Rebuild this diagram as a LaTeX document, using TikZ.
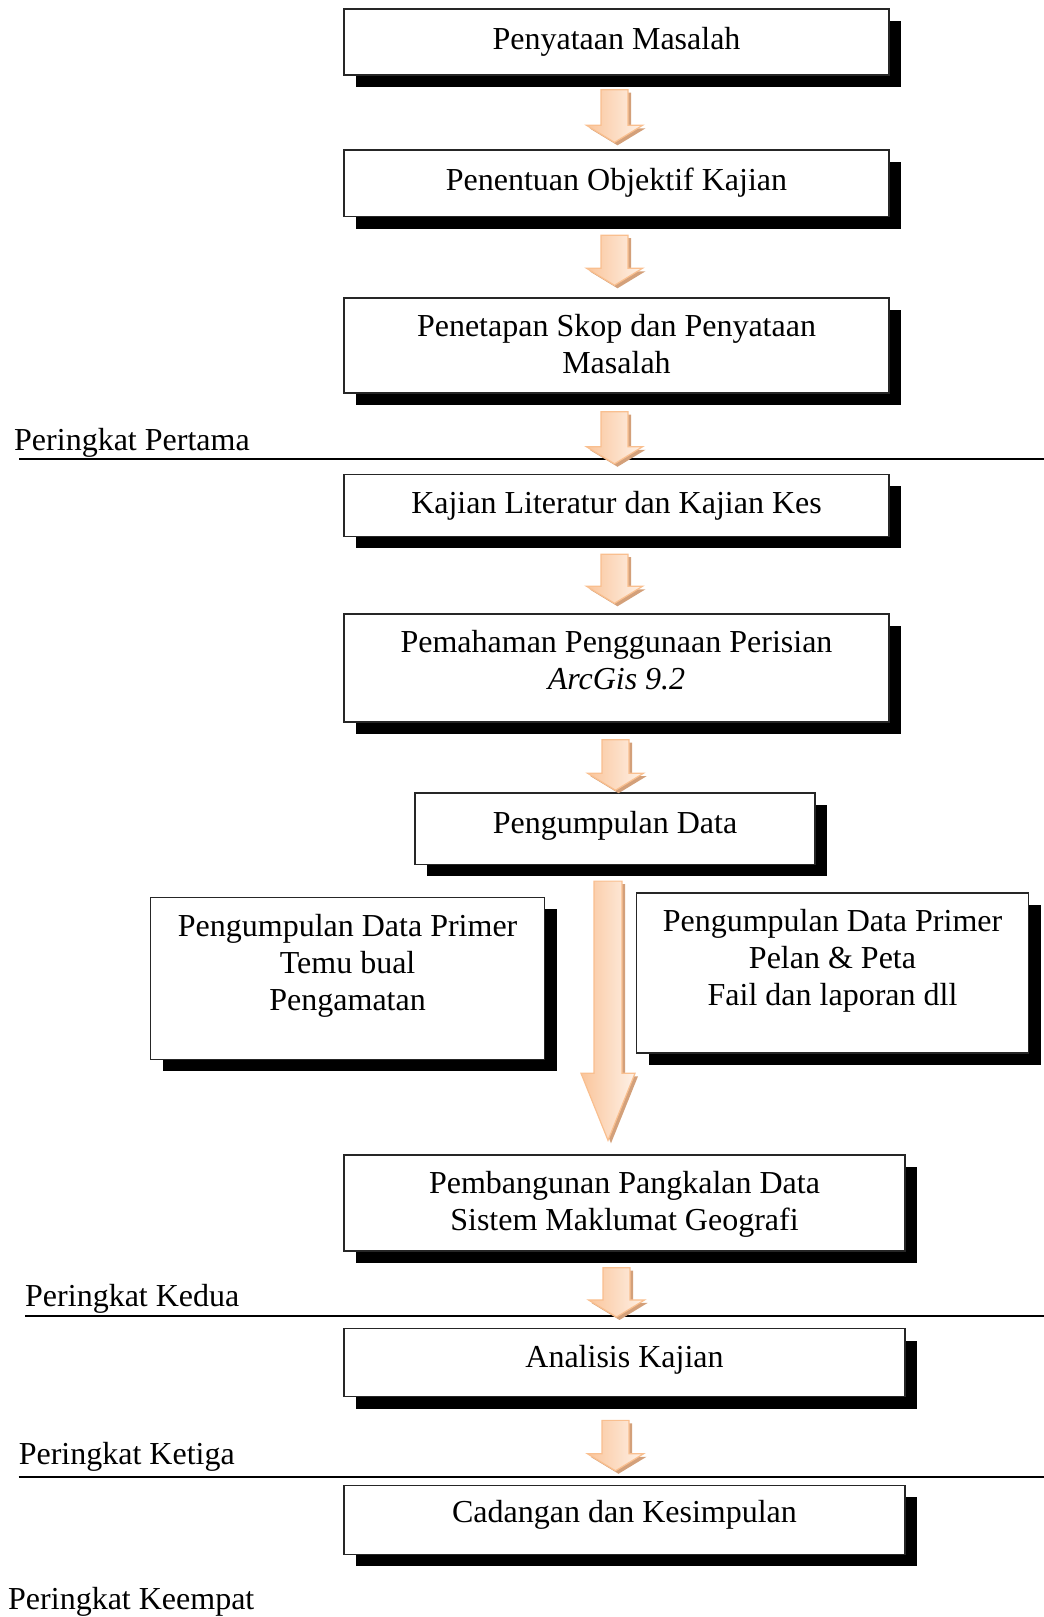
\documentclass[tikz,border=0pt]{standalone}
\usepackage{fontspec}
\setmainfont{Liberation Serif}
\usetikzlibrary{calc,shadows}

\definecolor{arrowline}{HTML}{F9BF8F}
\definecolor{arrowleft}{HTML}{FAC59B}
\definecolor{arrowright}{HTML}{FEF1E7}
\definecolor{arrowshadow}{HTML}{D3A07A}

\tikzset{
  stage/.style={draw=black!85, line width=1.4pt, fill=white, inner sep=0pt,
    drop shadow={shadow xshift=12pt, shadow yshift=-12pt, fill=black, opacity=1}},
  stagetext/.style={align=center, inner sep=0pt},
  levellabel/.style={anchor=base west, inner sep=0pt},
  levelrule/.style={line width=1.5pt},
  flowarrow/.style={draw=arrowline, line width=1.2pt, left color=arrowleft, right color=arrowright,
    drop shadow={shadow xshift=3pt, shadow yshift=-3pt, fill=arrowshadow, opacity=1}}
}

% block arrow: from, to, half shaft, half head, head length
\newcommand{\flowarrow}[5]{%
  \path[flowarrow] let \p1=(#1), \p2=(#2) in
    (\x1-#3pt,\y1) -- (\x1+#3pt,\y1) -- (\x1+#3pt,\y2+#5pt) -- (\x1+#4pt,\y2+#5pt)
    -- (\x1,\y2) -- (\x1-#4pt,\y2+#5pt) -- (\x1-#3pt,\y2+#5pt) -- cycle;}

\begin{document}
\begin{tikzpicture}[x=1pt, y=1pt, font=\fontsize{32}{37}\selectfont]
  \useasboundingbox (0,0) rectangle (1044,1617);

  % Level rules
  \coordinate (pertama-a) at (19,1158);
  \coordinate (pertama-b) at (1044,1158);
  \coordinate (kedua-a) at (25,301);
  \coordinate (kedua-b) at (1044,301);
  \coordinate (ketiga-a) at (18.6,140);
  \coordinate (ketiga-b) at (1044,140);
  \draw[levelrule] (pertama-a) -- (pertama-b);
  \draw[levelrule] (kedua-a) -- (kedua-b);
  \draw[levelrule] (ketiga-a) -- (ketiga-b);

  % Level labels
  \node[levellabel] (pertama) at (14,1166) {Peringkat Pertama};
  \node[levellabel] (kedua) at (25,310) {Peringkat Kedua};
  \node[levellabel] (ketiga) at (18.6,152) {Peringkat Ketiga};
  \node[levellabel] (keempat) at (8,8) {Peringkat Keempat};

  % Boxes
  \node[stage, minimum width=545, minimum height=66] (masalah) at (616.5,1575) {};
  \node[stage, minimum width=545, minimum height=66.5] (objektif) at (616.5,1433.7) {};
  \node[stage, minimum width=545, minimum height=95] (skop) at (616.5,1271.5) {};
  \node[stage, minimum width=545, minimum height=62] (literatur) at (616.5,1111.5) {};
  \node[stage, minimum width=545, minimum height=108] (perisian) at (616.5,949) {};
  \node[stage, minimum width=400, minimum height=71.5] (data) at (615,788.3) {};
  \node[stage, minimum width=394, minimum height=162] (primer1) at (347.6,638.5) {};
  \node[stage, minimum width=392, minimum height=160] (primer2) at (832.5,644) {};
  \node[stage, minimum width=561, minimum height=96] (pangkalan) at (624.5,414) {};
  \node[stage, minimum width=561, minimum height=68] (analisis) at (624.5,254.3) {};
  \node[stage, minimum width=561, minimum height=69] (cadangan) at (624.5,97) {};

  % Box texts
  \node[stagetext] (masalah-t) at ([yshift=0]masalah.center) {Penyataan Masalah};
  \node[stagetext] (objektif-t) at ([yshift=1]objektif.center) {Penentuan Objektif Kajian};
  \node[stagetext] (skop-t) at ([yshift=1]skop.center) {Penetapan Skop dan Penyataan\\Masalah};
  \node[stagetext] (literatur-t) at ([yshift=-0.5]literatur.center) {Kajian Literatur dan Kajian Kes};
  \node[stagetext] (perisian-t) at ([yshift=8]perisian.center) {Pemahaman Penggunaan Perisian\\\textit{ArcGis 9.2}};
  \node[stagetext] (data-t) at ([yshift=3]data.center) {Pengumpulan Data};
  \node[stagetext] (primer1-t) at ([yshift=13]primer1.center) {Pengumpulan Data Primer\\Temu bual\\Pengamatan};
  \node[stagetext] (primer2-t) at ([yshift=12]primer2.center) {Pengumpulan Data Primer\\Pelan \& Peta\\Fail dan laporan dll};
  \node[stagetext] (pangkalan-t) at ([yshift=-1.5]pangkalan.center) {Pembangunan Pangkalan Data\\Sistem Maklumat Geografi};
  \node[stagetext] (analisis-t) at ([yshift=3]analisis.center) {Analisis Kajian};
  \node[stagetext] (cadangan-t) at ([yshift=5]cadangan.center) {Cadangan dan Kesimpulan};

  % Arrows
  \flowarrow{[xshift=-2,yshift=-14]masalah.south}{[yshift=7]objektif.north}{13.5}{28}{17}
  \flowarrow{[xshift=-2,yshift=-18]objektif.south}{[yshift=12]skop.north}{13.5}{28}{17}
  \flowarrow{[xshift=-2,yshift=-18]skop.south}{[yshift=10]literatur.north}{13.5}{28}{17}
  \flowarrow{[xshift=-2,yshift=-17]literatur.south}{[yshift=10]perisian.north}{13.5}{28}{17}
  \flowarrow{[xshift=-1,yshift=-17]perisian.south}{[yshift=2]data.north}{13.5}{28}{17}
  \flowarrow{[xshift=-7,yshift=-16]data.south}{[yshift=14]pangkalan.north}{14}{27}{67}
  \flowarrow{[xshift=-8,yshift=-16]pangkalan.south}{[yshift=11]analisis.north}{13.5}{28}{17}
  \flowarrow{[xshift=-9,yshift=-23]analisis.south}{[yshift=14]cadangan.north}{13.5}{28}{17}
\end{tikzpicture}
\end{document}
